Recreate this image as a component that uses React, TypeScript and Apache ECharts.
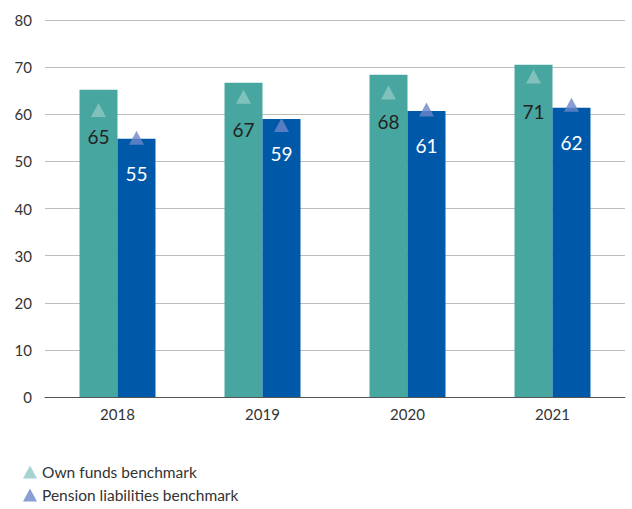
import React, { useEffect, useRef } from "react";
import * as echarts from "echarts";

const categories = ["2018", "2019", "2020", "2021"];
const ownFunds = [65.2, 66.7, 68.4, 70.5];
const pensionLiabilities = [54.8, 59.0, 60.7, 61.4];
const ownFundsLabels = ["65", "67", "68", "71"];
const pensionLabels = ["55", "59", "61", "62"];
const ownFundsBenchmark = [60.9, 63.7, 64.6, 68.0];
const pensionBenchmark = [55.0, 57.7, 61.0, 62.0];
const yTicks = [0, 10, 20, 30, 40, 50, 60, 70, 80];

const FONT = "Lato, 'Noto Sans', sans-serif";

export default function App() {
  const ref = useRef<HTMLDivElement>(null);
  useEffect(() => {
    if (!ref.current) return;
    const chart = echarts.init(ref.current, undefined, { renderer: "svg" });
    chart.setOption({
      animation: false,
      textStyle: { fontFamily: FONT },
      grid: { left: 45, right: 7, top: 20, bottom: 112 },
      legend: {
        orient: "vertical",
        left: 18,
        top: 459,
        itemWidth: 14,
        itemHeight: 13,
        itemGap: 7,
        textStyle: { fontSize: 15.5, color: "#333", fontFamily: FONT },
        data: [
          { name: "Own funds benchmark", icon: "triangle" },
          { name: "Pension liabilities benchmark", icon: "triangle" },
        ],
      },
      xAxis: {
        type: "category",
        data: categories,
        axisLine: { lineStyle: { color: "#555", width: 1 } },
        axisTick: { show: false },
        axisLabel: { fontSize: 15, color: "#333", margin: 9, fontFamily: FONT },
      },
      yAxis: {
        type: "value",
        min: yTicks[0],
        max: yTicks[yTicks.length - 1],
        interval: 10,
        axisLine: { show: false },
        axisTick: { show: false },
        axisLabel: { fontSize: 15, color: "#333", margin: 13, fontFamily: FONT },
        splitLine: { lineStyle: { color: "#bdbdbd", width: 1 } },
      },
      series: [
        {
          name: "Own funds",
          type: "bar",
          data: ownFunds,
          barGap: "0%",
          barCategoryGap: "47.6%",
          itemStyle: { color: "#48a6a0" },
          label: {
            show: true,
            position: "insideTop",
            distance: 37,
            fontSize: 19,
            color: "#222",
            fontFamily: FONT,
            formatter: (p: any) => ownFundsLabels[p.dataIndex],
          },
          z: 1,
        },
        {
          name: "Pension liabilities",
          type: "bar",
          data: pensionLiabilities,
          itemStyle: { color: "#0059a8" },
          label: {
            show: true,
            position: "insideTop",
            distance: 25,
            fontSize: 19,
            color: "#ffffff",
            fontFamily: FONT,
            formatter: (p: any) => pensionLabels[p.dataIndex],
          },
          z: 1,
        },
        {
          name: "Own funds benchmark",
          type: "scatter",
          data: ownFundsBenchmark,
          symbol: "triangle",
          symbolSize: [15, 14],
          symbolOffset: [-19, 0],
          itemStyle: { color: "#8fc8c3" },
          z: 5,
        },
        {
          name: "Pension liabilities benchmark",
          type: "scatter",
          data: pensionBenchmark,
          symbol: "triangle",
          symbolSize: [15, 14],
          symbolOffset: [19, 0],
          itemStyle: { color: "#6b86c8" },
          z: 5,
        },
      ],
    });
    return () => chart.dispose();
  }, []);
  return <div ref={ref} style={{ width: 632, height: 509, position: "absolute", left: 0, top: 0, background: "#fff" }} />;
}
